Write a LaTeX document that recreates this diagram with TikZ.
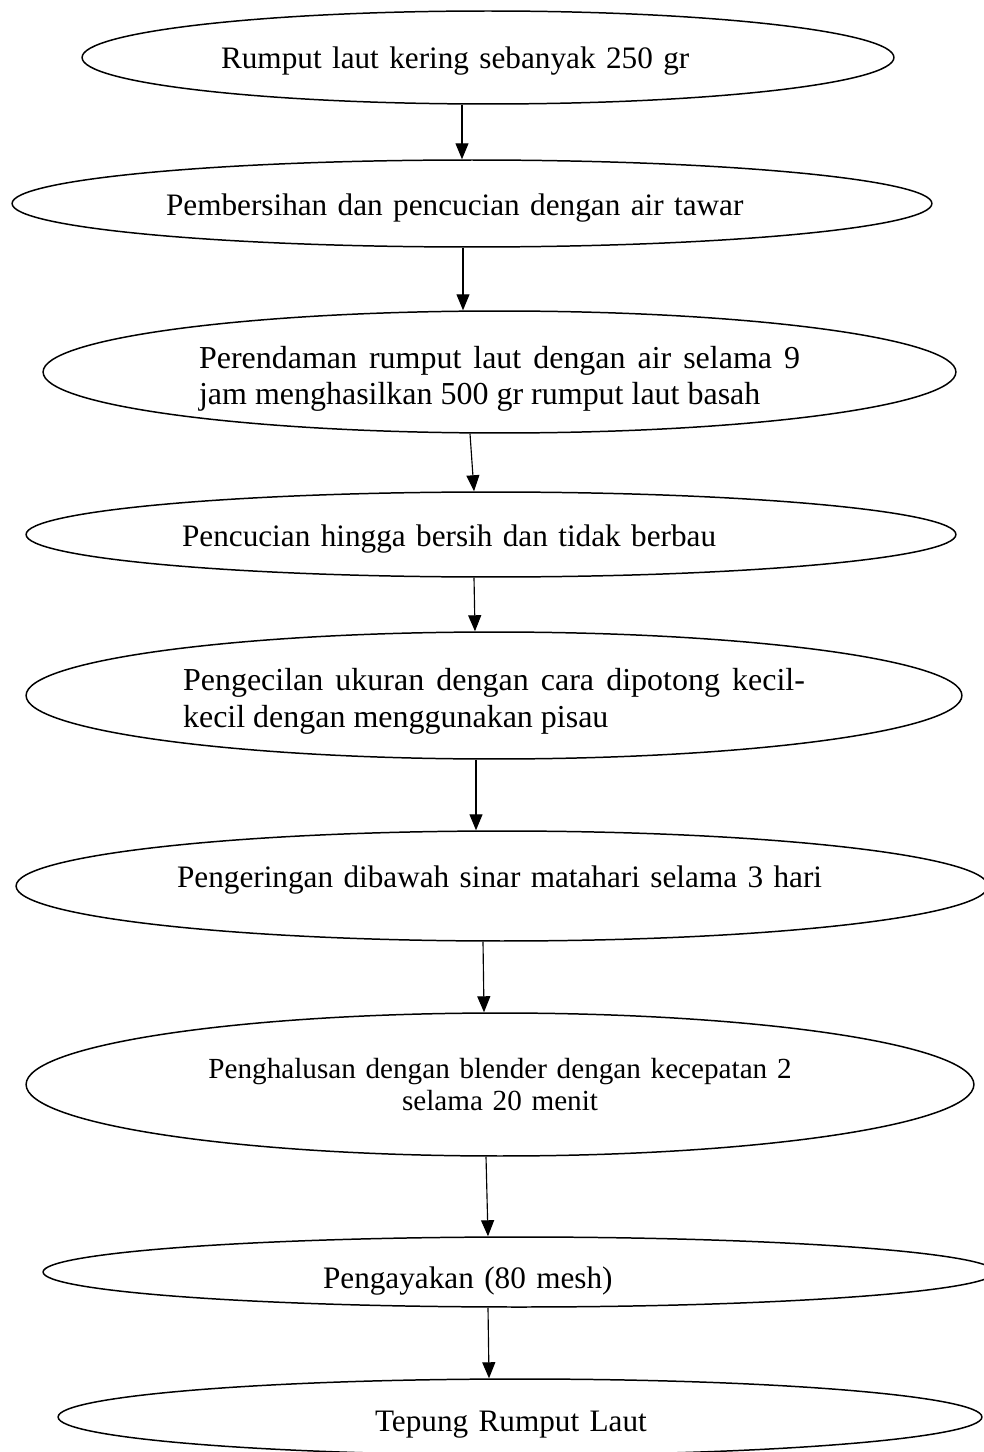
\documentclass[tikz,border=0pt]{standalone}
\usepackage{fontspec}
\setmainfont{Liberation Serif}
\usetikzlibrary{arrows.meta,calc,shapes.geometric}

\tikzset{
  proses/.style={draw, ellipse, line width=0.85pt, inner sep=0pt, align=left,
    font=\fontsize{17.77}{20.5}\selectfont},
  duabaris/.style={align=justify, font=\fontsize{18.2}{20.5}\selectfont},
  alur/.style={-{Triangle[length=3.2mm,width=2.6mm]}, line width=0.65pt},
}

\begin{document}
\begin{tikzpicture}[x=0.02cm, y=-0.02cm]
	\useasboundingbox (0,0) rectangle (983,1452);
	\node[proses, minimum width=16.24cm, minimum height=1.86cm, text width=10.68cm] (e1) at (488,57.5) {\rule{0pt}{0.568cm}Rumput laut kering sebanyak 250 gr};
	\node[proses, minimum width=18.4cm, minimum height=1.74cm, text width=12.24cm] (e2) at (472,203.5) {\rule{0pt}{0.608cm}Pembersihan dan pencucian dengan air tawar};
	\node[proses, duabaris, minimum width=18.26cm, minimum height=2.44cm, text width=12.02cm] (e3) at (499.5,372) {\rule{0pt}{0.718cm}Perendaman rumput laut dengan air selama 9 jam menghasilkan 500 gr rumput laut basah};
	\node[proses, minimum width=18.6cm, minimum height=1.7cm, text width=12.36cm] (e4) at (491,534.5) {\rule{0pt}{0.608cm}Pencucian hingga bersih dan tidak berbau};
	\node[proses, duabaris, minimum width=18.72cm, minimum height=2.54cm, text width=12.44cm] (e5) at (494,695.5) {\rule{0pt}{0.678cm}Pengecilan ukuran dengan cara dipotong kecil-kecil dengan menggunakan pisau};
	\node[proses, minimum width=19.44cm, minimum height=2.2cm, text width=13cm] (e6) at (502,886) {Pengeringan dibawah sinar matahari selama 3 hari\rule[-0.376cm]{0pt}{0.376cm}};
	\node[proses, minimum width=18.96cm, minimum height=2.86cm, text width=12.4cm, align=center, font=\fontsize{16.6}{18.2}\selectfont] (e7) at (500,1084.5) {Penghalusan dengan blender dengan kecepatan 2\\selama 20 menit};
	\node[proses, minimum width=19.04cm, minimum height=1.4cm, text width=7.84cm] (e8) at (519,1272) {\rule{0pt}{0.788cm}Pengayakan (80 mesh)};
	\node[proses, minimum width=18.48cm, minimum height=1.52cm, text width=5.8cm] (e9) at (520,1417) {\rule{0pt}{0.708cm}Tepung Rumput Laut};
	\path[alur]
		($(e1.south)+(-26,0)$) edge ($(e2.north)+(-10,0)$)
		($(e2.south)+(-9,0)$) edge ($(e3.north)+(-36.5,0)$)
		($(e3.south)+(-29.5,0)$) edge ($(e4.north)+(-17,0)$)
		($(e4.south)+(-17,0)$) edge ($(e5.north)+(-19,0)$)
		($(e5.south)+(-18,0)$) edge ($(e6.north)+(-26,0)$)
		($(e6.south)+(-19,0)$) edge ($(e7.north)+(-16,0)$)
		($(e7.south)+(-14,0)$) edge ($(e8.north)+(-31,0)$)
		($(e8.south)+(-31,0)$) edge ($(e9.north)+(-31,0)$);
\end{tikzpicture}
\end{document}
